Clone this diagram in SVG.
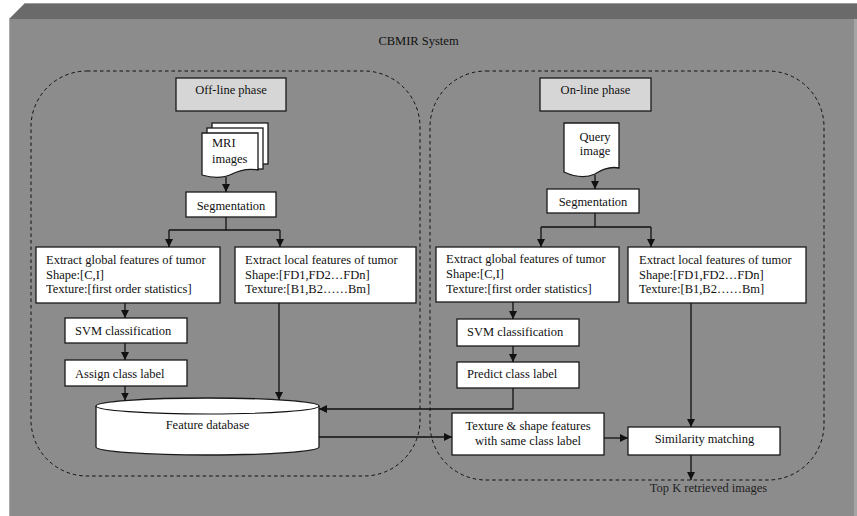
<svg xmlns="http://www.w3.org/2000/svg" width="857" height="516" viewBox="0 0 857 516">
<style>
text{font-family:"Liberation Serif","Times New Roman",serif;font-size:12.5px;fill:#111}
.box{fill:#fff;stroke:#1a1a1a;stroke-width:1.3}
.phase{fill:#d6d6d6;stroke:#1a1a1a;stroke-width:1.3}
.dash{fill:none;stroke:#111;stroke-width:1;stroke-dasharray:3.5,3}
.c{fill:none;stroke:#111;stroke-width:1.3}
.m{text-anchor:middle}
</style>
<defs>
<marker id="ah" viewBox="0 0 8 8" refX="8" refY="4" markerWidth="8" markerHeight="8" markerUnits="userSpaceOnUse" orient="auto">
<path d="M0,0 L8,4 L0,8 Z" fill="#111"/>
</marker>
</defs>
<rect x="0" y="0" width="857" height="516" fill="#fff"/>
<g id="frame">
<polygon points="9,19 25,3 857,3 857,19" fill="#6a6a6a"/>
<line x1="25" y1="3.5" x2="857" y2="3.5" stroke="#9a9a9a" stroke-width="1"/>
<rect x="9" y="19" width="845" height="497" fill="#8c8c8c"/>
<line x1="9.5" y1="19" x2="9.5" y2="516" stroke="#a8a8a8" stroke-width="1"/>
<rect x="854" y="19" width="3" height="497" fill="#a5a5a5"/>
<text x="418.5" y="45" class="m">CBMIR System</text>
</g>
<g id="offline-region"><rect x="31" y="71" width="389" height="405" rx="56" ry="56" class="dash"/></g>
<g id="online-region"><rect x="430" y="71" width="394" height="409" rx="56" ry="56" class="dash"/></g>
<g id="offline-phase"><rect x="176" y="78" width="110" height="33" class="phase"/><text x="231" y="94" class="m">Off-line phase</text></g>
<g id="online-phase"><rect x="540" y="78" width="111" height="33" class="phase"/><text x="595.5" y="94" class="m">On-line phase</text></g>
<g id="mri-images">
<rect x="212" y="123" width="56" height="41" class="box"/>
<rect x="207" y="128" width="56" height="41" class="box"/>
<path d="M202,133 H258 V170 C248,168 240,170 232,174 C222,179 212,178 202,175 Z" class="box"/>
<text x="212" y="147">MRI</text>
<text x="212" y="163">images</text>
</g>
<g id="query-image">
<path d="M564,123 H619 V168 C609,166 601,170 595,174 C586,178 575,177 564,172 Z" class="box"/>
<text x="595" y="140.5" class="m">Query</text>
<text x="595" y="154.5" class="m">image</text>
</g>
<g id="seg-left"><rect x="186" y="192" width="90" height="25" class="box"/><text x="231" y="209.5" class="m">Segmentation</text></g>
<g id="seg-right"><rect x="547" y="189" width="92" height="24" class="box"/><text x="593" y="206" class="m">Segmentation</text></g>
<g id="global-left"><rect x="36" y="247" width="184" height="56" class="box"/>
<text x="46" y="264">Extract global features of tumor</text><text x="46" y="278.5">Shape:[C,I]</text><text x="46" y="293">Texture:[first order statistics]</text></g>
<g id="local-left"><rect x="235" y="247" width="181" height="56" class="box"/>
<text x="245" y="264">Extract local features of tumor</text><text x="245" y="278.5">Shape:[FD1,FD2…FDn]</text><text x="245" y="293">Texture:[B1,B2……Bm]</text></g>
<g id="global-right"><rect x="436" y="247" width="183" height="55" class="box"/>
<text x="446" y="263">Extract global features of tumor</text><text x="446" y="278">Shape:[C,I]</text><text x="446" y="292.5">Texture:[first order statistics]</text></g>
<g id="local-right"><rect x="628" y="247" width="178" height="56" class="box"/>
<text x="639" y="264">Extract local features of tumor</text><text x="639" y="278.5">Shape:[FD1,FD2…FDn]</text><text x="639" y="293">Texture:[B1,B2……Bm]</text></g>
<g id="svm-left"><rect x="65" y="318" width="122" height="25" class="box"/><text x="75" y="334.5">SVM classification</text></g>
<g id="assign-label"><rect x="65" y="360" width="122" height="26" class="box"/><text x="75" y="377.5">Assign class label</text></g>
<g id="svm-right"><rect x="457" y="319" width="122" height="27" class="box"/><text x="467" y="336">SVM classification</text></g>
<g id="predict-label"><rect x="457" y="362" width="122" height="26" class="box"/><text x="467" y="378">Predict class label</text></g>
<g id="feature-db">
<path d="M96,406 V447 A111.5,8 0 0 0 319,447 V406 A111.5,8 0 0 0 96,406 Z" class="box"/>
<path d="M96,406 A111.5,8 0 0 0 319,406" class="c" style="stroke-width:1.1"/>
<text x="207.5" y="429" class="m">Feature database</text>
</g>
<g id="same-class"><rect x="452" y="413" width="152" height="42" class="box"/>
<text x="528" y="429.5" class="m">Texture &amp; shape features</text><text x="528" y="445" class="m">with same class label</text></g>
<g id="similarity"><rect x="628" y="427" width="152" height="28" class="box"/><text x="704.5" y="443" class="m">Similarity matching</text></g>
<g id="output-label"><text x="708.5" y="492" class="m" style="fill:#222">Top K retrieved images</text></g>
<g id="connectors">
<path d="M226,177 V192" class="c" marker-end="url(#ah)"/>
<path d="M226,217 V230" class="c"/>
<path d="M169,230 H280" class="c"/>
<path d="M169,230 V247" class="c" marker-end="url(#ah)"/>
<path d="M280,230 V247" class="c" marker-end="url(#ah)"/>
<path d="M125,303 V318" class="c" marker-end="url(#ah)"/>
<path d="M125,343 V360" class="c" marker-end="url(#ah)"/>
<path d="M125,386 V400.5" class="c" marker-end="url(#ah)"/>
<path d="M279,303 V400" class="c" marker-end="url(#ah)"/>
<path d="M513,388 V409 H319" class="c" marker-end="url(#ah)"/>
<path d="M319,437 H452" class="c" marker-end="url(#ah)"/>
<path d="M595,175 V189" class="c" marker-end="url(#ah)"/>
<path d="M595,213 V227" class="c"/>
<path d="M541,227 H651" class="c"/>
<path d="M541,227 V247" class="c" marker-end="url(#ah)"/>
<path d="M651,227 V247" class="c" marker-end="url(#ah)"/>
<path d="M513,302 V319" class="c" marker-end="url(#ah)"/>
<path d="M513,346 V362" class="c" marker-end="url(#ah)"/>
<path d="M691,303 V427" class="c" marker-end="url(#ah)"/>
<path d="M604,438 H628" class="c" marker-end="url(#ah)"/>
<path d="M691,455 V480" class="c" marker-end="url(#ah)"/>
</g>
</svg>
